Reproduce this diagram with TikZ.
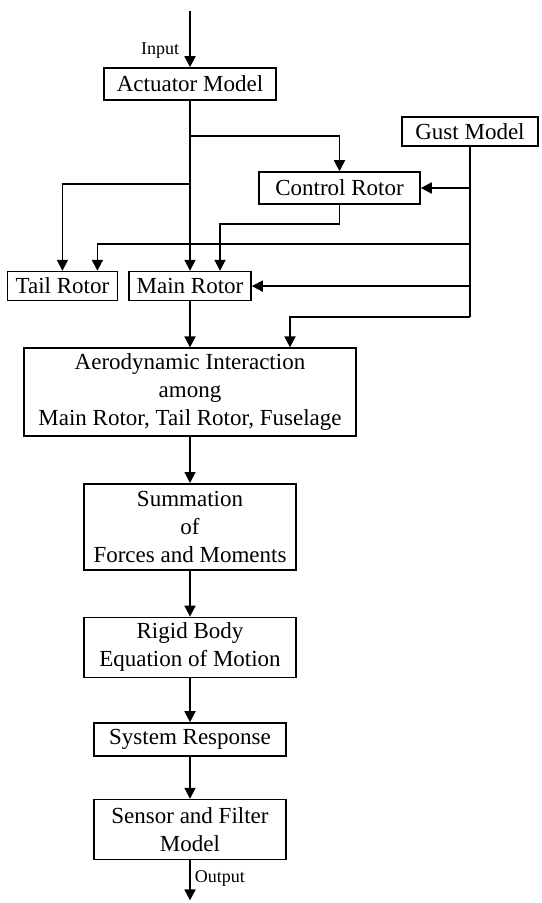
\documentclass[tikz,border=0pt]{standalone}
\usepackage{fontspec}
\setmainfont{Liberation Serif}
\usetikzlibrary{positioning, arrows.meta}

\begin{document}
\begin{tikzpicture}[
  x=1pt, y=1pt,
  font=\fontsize{11.5}{14}\selectfont,
  node distance=23pt and 5pt,
  blk/.style={draw, line width=0.8pt, inner sep=1pt, align=center},
  lbl/.style={font=\fontsize{9}{10}\selectfont, inner sep=2pt},
  ar/.style={-{Triangle[length=5.5pt, width=5.5pt]}, line width=0.9pt},
  ln/.style={line width=0.9pt}
]
\useasboundingbox (0,0) rectangle (270.5,-451.5);

% Top: actuator and gust sources
\node[blk, minimum width=86pt, minimum height=16pt] (act) at (95,-42) {Actuator Model};
\node[blk, minimum width=68pt, minimum height=14.5pt] (gust) at (235,-65.75) {Gust Model};
\node[blk, minimum width=80.5pt, minimum height=16pt] (ctrl) at (169.75,-94) {Control Rotor};

% Rotor row
\node[blk, minimum width=61pt, minimum height=14.5pt, below=85pt of act] (main) {Main Rotor};
\node[blk, minimum width=55pt, minimum height=14.5pt, left=of main] (tail) {Tail Rotor};

% Main chain
\node[blk, minimum width=166pt, minimum height=44pt, below=of main] (aero) {Aerodynamic Interaction\\among\\Main Rotor, Tail Rotor, Fuselage};
\node[blk, minimum width=106pt, minimum height=43pt, below=of aero] (sum) {Summation\\of\\Forces and Moments};
\node[blk, minimum width=106pt, minimum height=30pt, below=of sum] (rigid) {Rigid Body\\Equation of Motion};
\node[blk, minimum width=96pt, minimum height=16.5pt, below=22pt of rigid] (sys) {System Response};
\node[blk, minimum width=96pt, minimum height=30pt, below=21pt of sys] (sens) {Sensor and Filter\\Model};

% Junction points
\coordinate (in)  at ([yshift=28pt]act.north);
\coordinate (jc)  at ([yshift=-17.5pt]act.south);
\coordinate (jt)  at ([yshift=-41.5pt]act.south);
\coordinate (cm)  at ([yshift=-9.5pt]ctrl.south);
\coordinate (gt)  at ([yshift=-48.5pt]gust.south);
\coordinate (gb)  at ([yshift=-85pt]gust.south);
\coordinate (out) at ([yshift=-20pt]sens.south);

% Input and actuator branches
\draw[ar] (in) -- (act.north) node[pos=0.71, left, lbl, xshift=-3pt] {Input};
\draw[ar] (act.south) -- (main.north);
\draw[ar] (jc) -| (ctrl.north);
\draw[ar] (jt) -| (tail.north);
\draw[ar] (ctrl.south) -- (cm) -| ([xshift=15pt]main.north);

% Gust distribution
\draw[ln] (gust.south) -- (gb);
\draw[ar] (gust.south |- ctrl.east) -- (ctrl.east);
\draw[ar] (gt) -| ([xshift=17.5pt]tail.north);
\draw[ar] (gust.south |- main.east) -- (main.east);
\draw[ar] (gb) -| ([xshift=50pt]aero.north);

% Down the chain
\draw[ar] (main) -- (aero);
\draw[ar] (aero) -- (sum);
\draw[ar] (sum) -- (rigid);
\draw[ar] (rigid) -- (sys);
\draw[ar] (sys) -- (sens);
\draw[ar] (sens.south) -- (out) node[pos=0.45, right, lbl] {Output};

\end{tikzpicture}
\end{document}
